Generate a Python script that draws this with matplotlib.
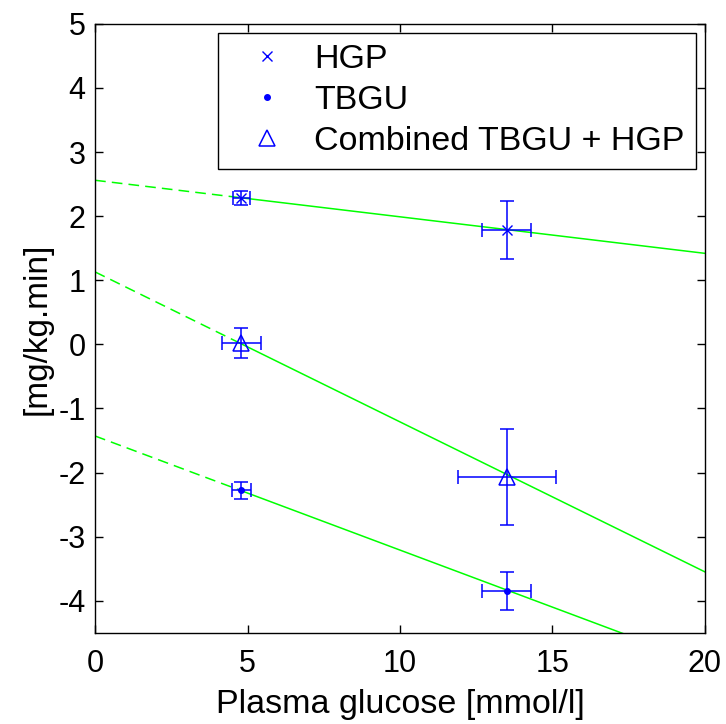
import numpy as np
import matplotlib
matplotlib.use("Agg")
import matplotlib.pyplot as plt

plt.rcParams['font.family'] = ['Liberation Sans', 'DejaVu Sans']
plt.rcParams['axes.unicode_minus'] = False

# Measured points (plasma glucose levels)
glucose = [4.8, 13.5]

hgp = [2.28, 1.78]
hgp_yerr = [0.11, 0.45]
hgp_xerr = [0.29, 0.8]

tbgu = [-2.28, -3.85]
tbgu_yerr = [0.13, 0.30]
tbgu_xerr = [0.31, 0.8]

combined = [0.02, -2.07]
combined_yerr = [0.24, 0.75]
combined_xerr = [0.63, 1.6]

# Fitted lines: intercept at 0 mmol/l and slope
fit_intercepts = [2.56, 1.13, -1.43]
fit_slopes = [-0.057, -0.234, -0.178]

fig = plt.figure(figsize=(7.26, 7.24), dpi=100)
ax = fig.add_axes([0.131, 0.126, 0.84, 0.841])

green = '#00ff00'
blue = '#0000ff'

x_dash = np.array([0, glucose[0]])
x_solid = np.array([glucose[0], 20])
for b, m in zip(fit_intercepts, fit_slopes):
    ax.plot(x_dash, b + m * x_dash, color=green, lw=1.1, dashes=(7, 4))
    ax.plot(x_solid, b + m * x_solid, color=green, lw=1.1)

eb = dict(fmt='none', ecolor=blue, elinewidth=1.1, capsize=5, capthick=1.1)
ax.errorbar(glucose, hgp, yerr=hgp_yerr, xerr=hgp_xerr, **eb)
ax.errorbar(glucose, tbgu, yerr=tbgu_yerr, xerr=tbgu_xerr, **eb)
ax.errorbar(glucose, combined, yerr=combined_yerr, xerr=combined_xerr, **eb)

ax.plot(glucose, hgp, 'x', color=blue, ms=7, mew=1, label='HGP')
ax.plot(glucose, tbgu, '.', color=blue, ms=8, label='TBGU')
ax.plot(glucose, combined, '^', color=blue, mfc='none', ms=11, mew=1.1,
        label='Combined TBGU + HGP')

ax.set_xlim(0, 20)
ax.set_ylim(-4.5, 5)
ax.set_xticks([0, 5, 10, 15, 20])
ax.set_yticks(range(-4, 6))
ax.tick_params(direction='in', top=True, right=True, length=6, width=1,
               labelsize=22)
ax.tick_params(axis='x', pad=12)
ax.tick_params(axis='y', pad=7)
for s in ax.spines.values():
    s.set_linewidth(1)

ax.set_xlabel('Plasma glucose [mmol/l]', fontsize=24.5, labelpad=7)
ax.set_ylabel('[mg/kg.min]', fontsize=24, labelpad=4)

leg = ax.legend(loc='upper right', fontsize=24.5, fancybox=False,
                edgecolor='black', framealpha=1, handletextpad=0.3,
                borderpad=0.33, labelspacing=0.3, borderaxespad=0.26,
                handlelength=2.2)
leg.get_frame().set_linewidth(1)

fig.savefig('out.png', dpi=100)
